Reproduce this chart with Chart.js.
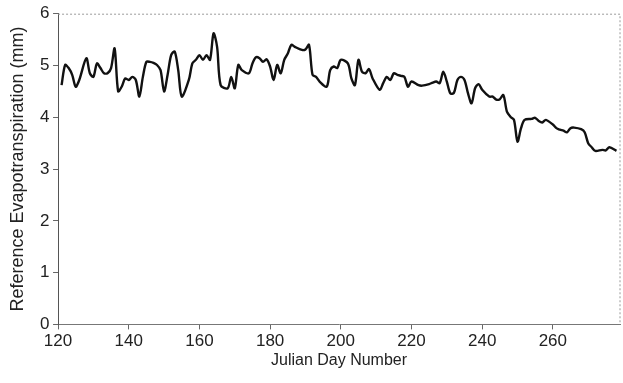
<!DOCTYPE html>
<html>
<head>
<meta charset="utf-8">
<script src="https://cdn.jsdelivr.net/npm/chart.js@4.4.1/dist/chart.umd.min.js"></script>
<style>
  html, body { margin: 0; padding: 0; background: #fff; }
  #wrap { width: 623px; height: 383px; }
</style>
</head>
<body>
<div id="wrap"><canvas id="myChart" width="623" height="383"></canvas></div>
<script>
// Julian day and reference ET (mm)
let days = [121, 122, 123, 124, 125, 126, 128, 129, 130, 131, 132, 133, 134, 135, 136, 137, 138, 139, 140,
  141, 142, 143, 144, 145, 146, 147, 148, 149, 150, 151, 152, 153, 154, 155, 157, 158, 159, 160,
  161, 162, 163, 164, 165, 166, 168, 169, 170, 171, 172, 174, 175, 176, 177, 178, 179, 180,
  181, 182, 183, 184, 185, 186, 187, 189, 190, 191, 192, 193, 194, 196, 197, 198, 199, 200,
  202, 203, 204, 205, 206, 207, 208, 209, 211, 212, 213, 214, 215, 216, 217, 218, 219, 220,
  222, 223, 225, 226, 227, 228, 229, 230, 231, 232, 233, 234, 235, 236, 237, 238, 239, 240,
  242, 243, 244, 245, 246, 247, 248, 249, 250, 251, 252, 254, 255, 256, 257, 258, 260,
  261, 262, 263, 264, 265, 266, 268, 269, 270, 271, 272, 274, 275, 276, 278];
let et = [4.62, 5.01, 4.95, 4.82, 4.59, 4.72, 5.14, 4.85, 4.78, 5.04, 4.95, 4.85, 4.85, 4.95, 5.33, 4.50, 4.59, 4.75, 4.72,
  4.78, 4.72, 4.40, 4.78, 5.07, 5.07, 5.05, 5.01, 4.91, 4.50, 4.82, 5.20, 5.27, 4.91, 4.40, 4.72, 5.04, 5.11, 5.20,
  5.11, 5.20, 5.11, 5.62, 5.36, 4.62, 4.56, 4.78, 4.56, 5.01, 4.91, 4.85, 5.04, 5.16, 5.14, 5.07, 5.12, 4.98,
  4.72, 5.01, 4.85, 5.11, 5.23, 5.40, 5.36, 5.30, 5.31, 5.40, 4.82, 4.78, 4.69, 4.59, 4.91, 4.98, 4.95, 5.11,
  5.04, 4.75, 4.62, 5.11, 4.88, 4.85, 4.93, 4.75, 4.53, 4.66, 4.78, 4.72, 4.85, 4.82, 4.80, 4.78, 4.59, 4.69,
  4.62, 4.61, 4.64, 4.67, 4.69, 4.66, 4.88, 4.69, 4.46, 4.47, 4.72, 4.78, 4.72, 4.46, 4.27, 4.56, 4.64, 4.53,
  4.40, 4.40, 4.34, 4.35, 4.43, 4.11, 4.01, 3.95, 3.53, 3.79, 3.95, 3.97, 3.99, 3.93, 3.90, 3.95, 3.86,
  3.79, 3.76, 3.74, 3.71, 3.79, 3.80, 3.77, 3.71, 3.50, 3.42, 3.35, 3.37, 3.36, 3.42, 3.35];
let xTicks = [120, 140, 160, 180, 200, 220, 240, 260];
let yTicks = [0, 1, 2, 3, 4, 5, 6];

let points = [];
days.forEach(function(d, i) {
  points.push({ x: d, y: et[i] });
});

// dotted frame on top and right side of the plot
let framePlugin = {
  id: 'frame',
  afterDraw: function(chart) {
    let a = chart.chartArea;
    let c = chart.ctx;
    c.save();
    c.strokeStyle = '#9a9a9a';
    c.lineWidth = 1;
    c.setLineDash([2, 2]);
    c.beginPath();
    c.moveTo(a.left, a.top + 0.5);
    c.lineTo(a.right, a.top + 0.5);
    c.lineTo(a.right, a.bottom);
    c.stroke();
    c.restore();
  }
};

let font = 'Liberation Sans, Arial, sans-serif';
let ctx = document.getElementById('myChart');
let myChart = new Chart(ctx, {
  type: 'line',
  data: {
    datasets: [{
      data: points,
      borderColor: '#111',
      borderWidth: 2.4,
      pointRadius: 0,
      tension: 0.3,
      fill: false
    }]
  },
  options: {
    responsive: false,
    animation: false,
    layout: { padding: { top: 5, right: 3, bottom: 0, left: 0 } },
    plugins: { legend: { display: false }, tooltip: { enabled: false } },
    scales: {
      x: {
        type: 'linear',
        min: 120,
        max: 279,
        afterBuildTicks: function(axis) {
          axis.ticks = xTicks.map(function(v) { return { value: v }; });
        },
        ticks: { font: { family: font, size: 17 }, color: '#222', padding: 2, maxRotation: 0 },
        grid: { drawOnChartArea: false, tickLength: 5, tickColor: '#666' },
        border: { color: '#777', width: 1 },
        title: {
          display: true,
          text: 'Julian Day Number',
          font: { family: font, size: 16 },
          color: '#222',
          padding: { top: -3, bottom: 13 }
        }
      },
      y: {
        min: 0,
        max: 6,
        afterBuildTicks: function(axis) {
          axis.ticks = yTicks.map(function(v) { return { value: v }; });
        },
        ticks: { font: { family: font, size: 17 }, color: '#222', padding: 3.5 },
        grid: { drawOnChartArea: false, tickLength: 5, tickColor: '#666' },
        border: { color: '#555', width: 1 },
        title: {
          display: true,
          text: 'Reference Evapotranspiration (mm)',
          font: { family: font, size: 18 },
          color: '#222',
          padding: { top: 7, bottom: 8 }
        }
      }
    }
  },
  plugins: [framePlugin]
});
</script>
</body>
</html>
